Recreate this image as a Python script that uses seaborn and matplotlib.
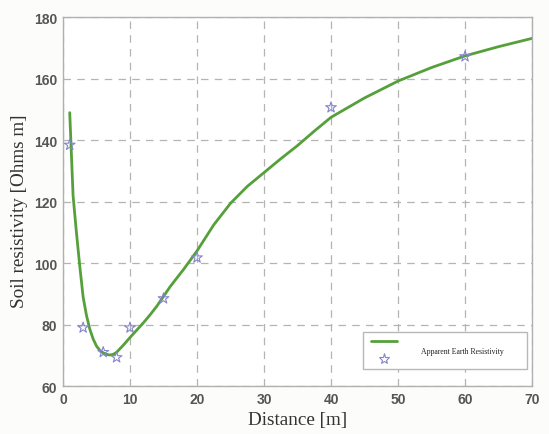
import matplotlib
matplotlib.use("Agg")
import matplotlib.pyplot as plt
from matplotlib.lines import Line2D
from matplotlib.legend_handler import HandlerBase
import seaborn as sns
import pandas as pd

# Fitted apparent resistivity curve
curve_distance = [1, 1.5, 2, 2.5, 3, 3.5, 4, 4.5, 5, 5.5, 6, 6.5, 7, 7.5, 8, 9,
                  10, 11, 12, 13, 14, 16, 18, 20, 22.5, 25, 27.5, 30, 32.5,
                  35, 37.5, 40, 45, 50, 55, 60, 65, 70]
curve_resistivity = [149, 122, 110, 99, 89, 83, 78.5, 75.3, 73, 71.6, 70.8,
                     70.3, 70.1, 70.3, 71, 73.3, 75.8, 78.2, 80.6, 83.2, 86,
                     92.4, 98, 104, 112.5, 119.5, 125, 129.5, 134, 138.3,
                     143, 147.5, 153.8, 159.3, 163.7, 167.5, 170.5, 173.2]

# Measured apparent resistivity
meas_distance = [1, 3, 6, 8, 10, 15, 20, 40, 60]
meas_resistivity = [138.5, 79, 71, 69.3, 79, 88.5, 101.8, 150.7, 167.3]

legend_label = "Apparent Earth Resistivity"
x_ticks = [0, 10, 20, 30, 40, 50, 60, 70]
y_ticks = [60, 80, 100, 120, 140, 160, 180]

LINE_COLOR = "#55a03a"
STAR_EDGE = "#8585cc"

curve_df = pd.DataFrame({"d": curve_distance, "r": curve_resistivity})
meas_df = pd.DataFrame({"d": meas_distance, "r": meas_resistivity})

sns.set_theme(style="whitegrid")

fig = plt.figure(figsize=(5.49, 4.35), dpi=100, facecolor="#fcfcfa")
ax = fig.add_axes([0.1148, 0.1103, 0.8543, 0.8472])
ax.set_facecolor("white")

sns.lineplot(data=curve_df, x="d", y="r", ax=ax, color=LINE_COLOR,
             linewidth=2.0, sort=False, legend=False)
sns.scatterplot(data=meas_df, x="d", y="r", ax=ax, marker="*", s=65,
                facecolor="none", edgecolor=STAR_EDGE, linewidth=0.8,
                legend=False, zorder=4)

ax.set_xlim(0, 70)
ax.set_ylim(60, 180)
ax.set_xticks(x_ticks)
ax.set_yticks(y_ticks)

ax.grid(True, color="#b4b4b4", linestyle=(0, (6, 5)), linewidth=0.9)
for sp in ax.spines.values():
    sp.set_visible(True)
    sp.set_color("#b0b0b0")
    sp.set_linewidth(1.0)

ax.tick_params(axis="both", direction="in", length=0, pad=4, colors="#555555")
for lab in ax.get_xticklabels() + ax.get_yticklabels():
    lab.set_fontfamily("Liberation Sans")
    lab.set_fontweight("bold")
    lab.set_fontsize(10)
    lab.set_color("#555555")

label_font = dict(family="Liberation Serif", size=13.8, color="#333333")
ax.set_xlabel("Distance [m]", labelpad=4, **label_font)
ax.set_ylabel("Soil resistivity [Ohms m]", **label_font)
ax.yaxis.set_label_coords(-0.074, 0.478)


class StackedHandler(HandlerBase):
    """Draws the line sample above the marker sample in one legend entry."""

    def create_artists(self, legend, orig_handle, xdescent, ydescent,
                       width, height, fontsize, trans):
        x0, y0 = -xdescent, -ydescent
        ln = Line2D([x0, x0 + width], [y0 + 0.92 * height] * 2,
                    color=LINE_COLOR, linewidth=2.0)
        st = Line2D([x0 + width / 2], [y0 + 0.1 * height], marker="*",
                    linestyle="none", markersize=8, markerfacecolor="none",
                    markeredgecolor=STAR_EDGE, markeredgewidth=0.8)
        ln.set_transform(trans)
        st.set_transform(trans)
        return [ln, st]


proxy_line = Line2D([], [], color=LINE_COLOR)
proxy_star = Line2D([], [], marker="*", linestyle="none")
leg = ax.legend(handles=[(proxy_line, proxy_star)], labels=[legend_label],
                handler_map={tuple: StackedHandler()},
                loc="lower left", bbox_to_anchor=(0.6397, 0.046, 0.3497, 0.106),
                mode="expand", borderaxespad=0, borderpad=1.0,
                handlelength=3.4, handleheight=3.9, handletextpad=3.0,
                prop={"family": "Liberation Serif", "size": 5.6},
                frameon=True, fancybox=False, framealpha=1)
leg.get_frame().set_edgecolor("#b8b8b8")
leg.get_frame().set_linewidth(1.0)
leg.get_frame().set_facecolor("white")
for t in leg.get_texts():
    t.set_color("#222222")

fig.savefig("out.png", dpi=100, facecolor=fig.get_facecolor())
